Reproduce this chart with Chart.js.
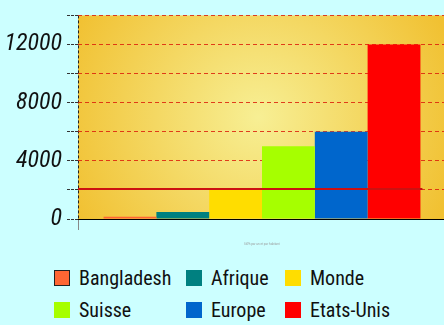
<!DOCTYPE html>
<html><head><meta charset="utf-8">
<script src="https://cdn.jsdelivr.net/npm/chart.js@4/dist/chart.umd.min.js"></script>
<style>
html,body{margin:0;padding:0;background:#ccffff;overflow:hidden;width:444px;height:325px}
#wrap{position:absolute;left:0;top:-4px;width:446px;height:254px}
#legend{position:absolute;left:54px;top:270px;display:grid;grid-template-columns:132px 99px auto;row-gap:16px;font-family:"Roboto Condensed","DejaVu Sans Condensed",sans-serif;font-size:20px;color:#111}
.it{display:flex;align-items:center;height:16px;white-space:nowrap}
.bx{width:16px;height:16px;box-sizing:border-box;margin-right:9px;flex:none}
</style></head>
<body>
<div id="wrap"><canvas id="c" width="446" height="254"></canvas></div>
<div id="legend"></div>
<script>
const categories = ["kWh par an et par habitant"];
const seriesNames = ["Bangladesh","Afrique","Monde","Suisse","Europe","Etats-Unis"];
const seriesValues = [150, 480, 2000, 5000, 6000, 12000];
const seriesColors = ["#ff6633","#008080","#ffdd00","#a6ff00","#0066cc","#ff0000"];
const seriesBorders = ["#222222","#008080","#ffdd00","#a6ff00","#0066cc","#ff0000"];
const averageValue = 2000;
const yTickValues = [0,2000,4000,6000,8000,10000,12000,14000];
const yLabelValues = [0,4000,8000,12000];

const bgPlugin = {
  id:'bg',
  beforeDraw(chart){
    const {ctx,chartArea:a}=chart;
    const cx=a.left+(a.right-a.left)*0.49, cy=a.top+(a.bottom-a.top)*0.5;
    const g=ctx.createRadialGradient(cx,cy,0,cx,cy,205);
    g.addColorStop(0,'#f7ef94');
    g.addColorStop(1,'#f1c132');
    ctx.save();ctx.fillStyle=g;ctx.fillRect(a.left,a.top,a.right-a.left,a.bottom-a.top);ctx.restore();
  }
};
const avgPlugin = {
  id:'avg',
  afterDatasetsDraw(chart){
    const {ctx,chartArea:a,scales:{y}}=chart;
    const last=chart.getDatasetMeta(seriesValues.length-1).data[0];
    const py=y.getPixelForValue(averageValue)-1;
    ctx.save();ctx.strokeStyle='#cc1111';ctx.lineWidth=2;
    ctx.beginPath();ctx.moveTo(a.left,py);ctx.lineTo(last.x+last.width/2+2,py);ctx.stroke();ctx.restore();
  }
};

new Chart(document.getElementById('c'),{
  type:'bar',
  data:{
    labels:categories,
    datasets:seriesNames.map((n,i)=>({label:n,data:[seriesValues[i]],backgroundColor:seriesColors[i],borderWidth:0}))
  },
  options:{
    responsive:false,animation:false,
    layout:{padding:{top:10,left:0,right:0,bottom:0}},
    datasets:{bar:{barPercentage:1,categoryPercentage:0.861}},
    plugins:{legend:{display:false},tooltip:{enabled:false}},
    scales:{
      x:{
        offset:true,
        grid:{display:true,color:'#222',lineWidth:1,drawOnChartArea:true,drawTicks:true,tickLength:11,tickColor:'#888',offset:true},
        border:{display:true,color:'#000',width:1,dash:[3,2]},
        ticks:{color:'#999',font:{size:3},padding:12},
        afterFit(s){s.height=31;}
      },
      y:{
        min:0,max:14000,
        afterBuildTicks(s){s.ticks=yTickValues.map(v=>({value:v}));},
        grid:{color:'rgba(220,30,10,0.85)',lineWidth:1,tickLength:11,tickColor:'#333',tickBorderDash:[3,1],drawTicks:true},
        border:{display:false,dash:[4,3]},
        ticks:{
          autoSkip:false,
          color:'#111',padding:5,
          font:{family:'"Roboto Condensed","DejaVu Sans Condensed",sans-serif',style:'italic',size:24},
          callback:(v)=>yLabelValues.includes(v)?String(v):''
        },
        afterFit(s){s.width=78;}
      }
    }
  },
  plugins:[bgPlugin,avgPlugin]
});

const lg=document.getElementById('legend');
seriesNames.forEach((n,i)=>{
  const d=document.createElement('div');d.className='it';
  const b=document.createElement('span');b.className='bx';
  b.style.background=seriesColors[i];
  if(i===0)b.style.border='1.5px solid '+seriesBorders[i];
  d.appendChild(b);d.appendChild(document.createTextNode(n));lg.appendChild(d);
});
</script>
</body></html>
